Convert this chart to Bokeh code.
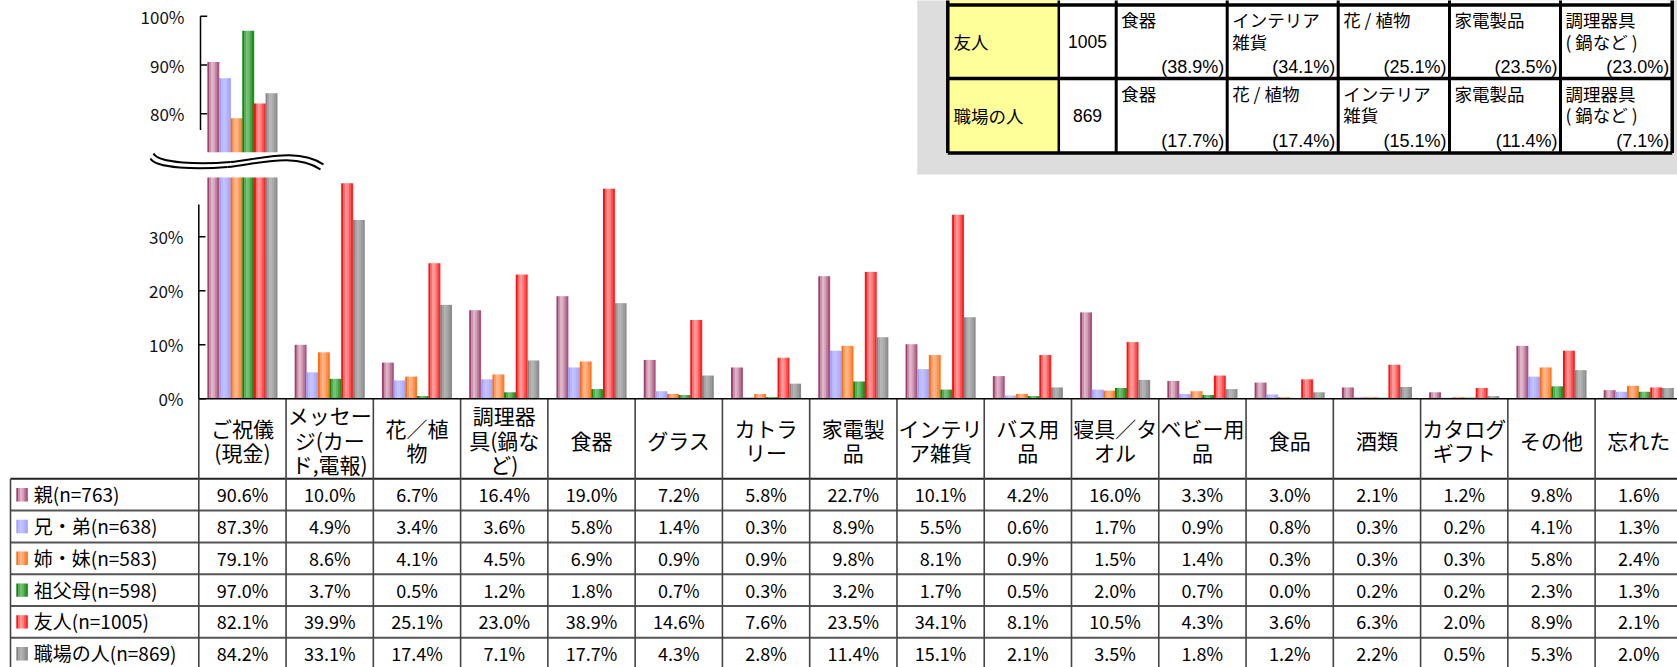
import numpy as np
from bokeh.plotting import figure
from bokeh.models import Range1d
from bokeh.core.properties import value
from bokeh.embed import file_html
from bokeh.resources import INLINE

# ---------------- data ----------------
categories = ["ご祝儀\n(現金)", "メッセー\nジ(カー\nド,電報)", "花／植\n物", "調理器\n具(鍋な\nど)",
              "食器", "グラス", "カトラ\nリー", "家電製\n品", "インテリ\nア雑貨", "バス用\n品",
              "寝具／タ\nオル", "ベビー用\n品", "食品", "酒類", "カタログ\nギフト", "その他", "忘れた"]
series_names = ["親(n=763)", "兄・弟(n=638)", "姉・妹(n=583)", "祖父母(n=598)", "友人(n=1005)", "職場の人(n=869)"]
oya = [90.6, 10.0, 6.7, 16.4, 19.0, 7.2, 5.8, 22.7, 10.1, 4.2, 16.0, 3.3, 3.0, 2.1, 1.2, 9.8, 1.6]
kyodai = [87.3, 4.9, 3.4, 3.6, 5.8, 1.4, 0.3, 8.9, 5.5, 0.6, 1.7, 0.9, 0.8, 0.3, 0.2, 4.1, 1.3]
shimai = [79.1, 8.6, 4.1, 4.5, 6.9, 0.9, 0.9, 9.8, 8.1, 0.9, 1.5, 1.4, 0.3, 0.3, 0.3, 5.8, 2.4]
sofubo = [97.0, 3.7, 0.5, 1.2, 1.8, 0.7, 0.3, 3.2, 1.7, 0.5, 2.0, 0.7, 0.0, 0.2, 0.2, 2.3, 1.3]
yujin = [82.1, 39.9, 25.1, 23.0, 38.9, 14.6, 7.6, 23.5, 34.1, 8.1, 10.5, 4.3, 3.6, 6.3, 2.0, 8.9, 2.1]
shokuba = [84.2, 33.1, 17.4, 7.1, 17.7, 4.3, 2.8, 11.4, 15.1, 2.1, 3.5, 1.8, 1.2, 2.2, 0.5, 5.3, 2.0]
series_values = [oya, kyodai, shimai, sofubo, yujin, shokuba]
lower_ticks = [0, 10, 20, 30]
upper_ticks = [80, 90, 100]

inset_groups = ["友人", "職場の人"]
inset_counts = [1005, 869]
inset_items_friend = ["食器", "インテリア\n雑貨", "花 / 植物", "家電製品", "調理器具\n( 鍋など )"]
inset_pcts_friend = [38.9, 34.1, 25.1, 23.5, 23.0]
inset_items_work = ["食器", "花 / 植物", "インテリア\n雑貨", "家電製品", "調理器具\n( 鍋など )"]
inset_pcts_work = [17.7, 17.4, 15.1, 11.4, 7.1]

# ---------------- style / layout ----------------
dark = ["#993366", "#9D9DFF", "#FF6600", "#008000", "#FF0000", "#7F7F7F"]
light = ["#DDB6C8", "#C2C2FF", "#FFB58C", "#74BE74", "#FF9A9A", "#B2B2B2"]
PROFILE = [0.1, 0.7, 1.0, 0.85, 0.55, 0.25]
JP = value("Noto Sans CJK JP")
AR = value("Liberation Sans")

W, H = 1677, 667
X0, CW = 198.3, 87.27        # px of first column edge, px per category
Y0, PPU = 398.3, 5.4         # px of 0%, px per % (lower panel)
YT, PPT = 15.7, 4.88         # px of 100%, px per % (upper panel)
BREAK_LO, CLIP = 72.1, 41.0
AXIS_LO_TOP, AXIS_UP_BOT = 36.0, 76.7
HB, ROW_H = 478.3, 31.8
BW = 0.8 / 6
NS = len(PROFILE)


def mix(c1, c2, t):
    a = [int(c1[i:i + 2], 16) for i in (1, 3, 5)]
    b = [int(c2[i:i + 2], 16) for i in (1, 3, 5)]
    return "#" + "".join(f"{int(round(x + (y - x) * t)):02x}" for x, y in zip(a, b))


def cx(px):
    return (px - X0) / CW


p = figure(width=W, height=H, title=None,
           x_range=Range1d(cx(0), cx(W)),
           y_range=Range1d((Y0 - H) / PPU, Y0 / PPU),
           x_axis_type=None, y_axis_type=None, min_border=0,
           toolbar_location=None, output_backend="svg")
p.outline_line_color = None
p.extra_x_ranges = {"px": Range1d(0, W)}
p.extra_y_ranges = {"top": Range1d(100 - (H - YT) / PPT, 100 + YT / PPT),
                    "px": Range1d(H, 0)}


def striped(xc, width, bottom, top, k, **kw):
    for j, t in enumerate(PROFILE):
        xs = np.asarray(xc) + (j + 0.5 - NS / 2) * width / NS
        p.vbar(x=xs, width=width / NS * 1.15, bottom=bottom, top=top,
               fill_color=mix(dark[k], light[k], t), line_color=None, **kw)


# ---------------- inset table (top right) ----------------
p.quad(left=[916.7], right=[1700], top=[-20], bottom=[174], fill_color="#DDDDDD", line_color=None,
       x_range_name="px", y_range_name="px")
col_edges = [947.3, 1058.3, 1115.7, 1226.7, 1337.7, 1449.0, 1560.0, 1671.7]
row_edges = [-68.5, 4.5, 78.0, 152.5]
p.quad(left=[col_edges[0]], right=[col_edges[1]], top=[row_edges[0]], bottom=[row_edges[-1]],
       fill_color="#FFFF99", line_color=None, x_range_name="px", y_range_name="px")
p.quad(left=[col_edges[1]], right=[col_edges[-1]], top=[row_edges[0]], bottom=[row_edges[-1]],
       fill_color="white", line_color=None, x_range_name="px", y_range_name="px")
p.segment(x0=[col_edges[0]] * 4, x1=[col_edges[-1]] * 4, y0=row_edges, y1=row_edges,
          line_color="black", line_width=3.5, x_range_name="px", y_range_name="px")
p.segment(x0=col_edges, x1=col_edges, y0=[row_edges[0]] * 8, y1=[row_edges[-1]] * 8,
          line_color="black", line_width=[3.5, 2.5, 3, 3, 3, 3, 3, 3.5], x_range_name="px", y_range_name="px")
row_tops = np.array(row_edges[1:3])
row_mid = row_tops + (row_edges[2] - row_edges[1]) / 2
p.text(x=[953, 953], y=row_mid, text=inset_groups, text_font=JP, text_font_size="17.5px",
       text_baseline="middle", text_color="black", x_range_name="px", y_range_name="px")
p.text(x=[(col_edges[1] + col_edges[2]) / 2] * 2, y=row_mid, text=[str(c) for c in inset_counts],
       text_font=AR, text_font_size="17.5px", text_align="center", text_baseline="middle",
       text_color="black", x_range_name="px", y_range_name="px")
for r, (items, pcts) in enumerate([(inset_items_friend, inset_pcts_friend), (inset_items_work, inset_pcts_work)]):
    lefts = np.array(col_edges[2:7]) + 5
    rights = np.array(col_edges[3:8]) - 3
    p.text(x=lefts, y=[row_tops[r] + 2] * 5, text=items, text_font=JP, text_font_size="17.5px",
           text_baseline="top", text_line_height=0.86, text_color="black",
           x_range_name="px", y_range_name="px")
    p.text(x=rights, y=[row_tops[r] + 62] * 5, text=[f"({v:.1f}%)" for v in pcts], text_font=AR,
           text_font_size="18px", text_align="right", text_baseline="middle", text_color="black",
           x_range_name="px", y_range_name="px")

# ---------------- bars ----------------
centers = np.arange(len(categories)) + 0.5
for k, vals in enumerate(series_values):
    vals = np.array(vals)
    xc = centers + (k - 2.5) * BW
    striped(xc, BW, 0, np.minimum(vals, CLIP), k)
    m = vals > BREAK_LO
    striped(xc[m], BW, BREAK_LO, vals[m], k, y_range_name="top")

# ---------------- axes (drawn) ----------------
TICK = 6.7 / CW
p.segment(x0=[0], y0=[0], x1=[0], y1=[AXIS_LO_TOP], line_color="black", line_width=1.5)
p.segment(x0=[0] * 4, x1=[TICK] * 4, y0=lower_ticks, y1=lower_ticks, line_color="black", line_width=1.5)
p.text(x=[cx(183)] * 4, y=lower_ticks, text=[f"{t}%" for t in lower_ticks], text_font=JP,
       text_font_size="17px", text_align="right", text_baseline="middle", text_color="#111111")
ux = cx(200)
p.segment(x0=[ux], y0=[AXIS_UP_BOT], x1=[ux], y1=[100], line_color="black", line_width=1.5, y_range_name="top")
p.segment(x0=[ux] * 3, x1=[ux + TICK] * 3, y0=upper_ticks, y1=upper_ticks, line_color="black",
          line_width=1.5, y_range_name="top")
p.text(x=[cx(184)] * 3, y=upper_ticks, text=[f"{t}%" for t in upper_ticks], text_font=JP,
       text_font_size="17px", text_align="right", text_baseline="middle", text_color="#111111",
       y_range_name="top")

# axis break mark
for dx, dy in [(0, 0), (-3, 5)]:
    p.bezier(x0=[153 + dx], y0=[153 + dy], x1=[230 + dx], y1=[161.5 + dy],
             cx0=[158 + dx], cy0=[163 + dy], cx1=[200 + dx], cy1=[164 + dy],
             line_color="black", line_width=2, x_range_name="px", y_range_name="px")
    p.bezier(x0=[230 + dx], y0=[161.5 + dy], x1=[323 + dx], y1=[164 + dy],
             cx0=[262 + dx], cy0=[158 + dy], cx1=[298 + dx], cy1=[147 + dy],
             line_color="black", line_width=2, x_range_name="px", y_range_name="px")

# ---------------- data table ----------------
nrow = len(series_names)
ncat = len(categories)
x_end = cx(W) + 1
tbl_left = cx(10)
row_lines = HB + ROW_H * np.arange(1, nrow + 1)
p.segment(x0=[tbl_left] * nrow, x1=[x_end] * nrow, y0=row_lines, y1=row_lines,
          line_color="#555555", line_width=2, y_range_name="px")
p.segment(x0=[tbl_left], x1=[x_end], y0=[HB], y1=[HB], line_color="#222222", line_width=2, y_range_name="px")
vx = np.arange(ncat + 1)
p.segment(x0=vx, x1=vx, y0=[Y0] * (ncat + 1), y1=[H + 20] * (ncat + 1),
          line_color="#444444", line_width=1.6, y_range_name="px")
p.segment(x0=[tbl_left], x1=[tbl_left], y0=[HB], y1=[H + 20], line_color="#444444",
          line_width=1.6, y_range_name="px")
p.segment(x0=[0], x1=[x_end], y0=[0], y1=[0], line_color="black", line_width=1.6)

p.text(x=centers, y=[(Y0 + HB) / 2 + 1] * ncat, text=categories, text_font=JP, text_font_size="21px",
       text_align="center", text_baseline="middle", text_line_height=0.82, text_color="black",
       y_range_name="px")
row_centers = HB + ROW_H * (np.arange(nrow) + 0.5)
for i, vals in enumerate(series_values):
    p.text(x=centers, y=[row_centers[i] - 0.5] * ncat, text=[f"{v:.1f}%" for v in vals], text_font=JP,
           text_font_size="18px", text_align="center", text_baseline="middle", text_color="black",
           y_range_name="px")
p.text(x=[cx(33.3)] * nrow, y=row_centers - 1, text=series_names, text_font=JP, text_font_size="19px",
       text_baseline="middle", text_color="black", y_range_name="px")
mk_w = 11.3 / CW
for k in range(nrow):
    striped([cx(21.6)], mk_w, row_centers[k] + 6.7, row_centers[k] - 6.7, k, y_range_name="px")

open("out.html", "w").write(file_html(p, INLINE))
